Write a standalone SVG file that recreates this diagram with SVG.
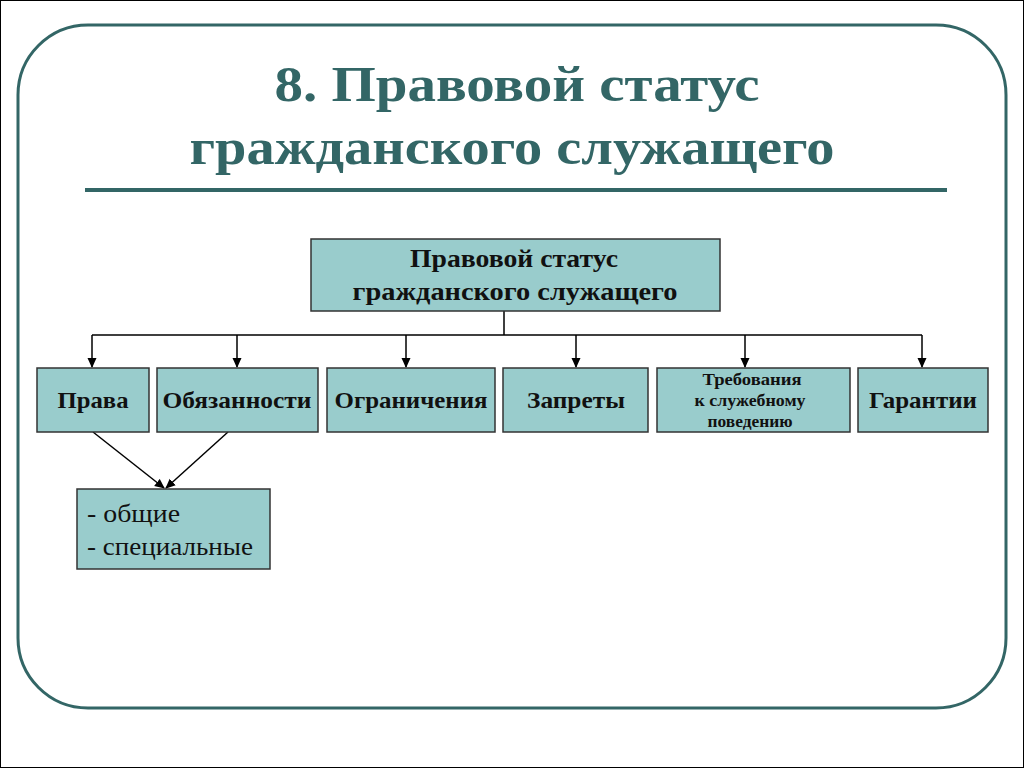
<svg xmlns="http://www.w3.org/2000/svg" width="1024" height="768" viewBox="0 0 1024 768">
<style>
.box{fill:#99cccc;stroke:#333;stroke-width:1.5}
.lbl{font-family:"Liberation Serif",serif;font-weight:bold;fill:#111;text-anchor:middle}
.ttl{font-family:"Liberation Serif",serif;font-weight:bold;font-size:50px;fill:#336666;text-anchor:middle}
.con{stroke:#000;stroke-width:1.5;fill:none}
.sub{font-family:"Liberation Serif",serif;font-size:25px;fill:#111}
</style>
<defs>
<marker id="ah" markerWidth="10" markerHeight="10" refX="9" refY="5" orient="auto" markerUnits="userSpaceOnUse">
<path d="M0,0.5 L10,5 L0,9.5 z" fill="#000"/>
</marker>
</defs>
<rect x="0.5" y="0.5" width="1023" height="767" fill="#fff" stroke="#000" stroke-width="1"/>
<path d="M88,25 H936 A70,70 0 0 1 1006,95 V638 A70,70 0 0 1 936,708 H88 A70,70 0 0 1 18,638 V95 A70,70 0 0 1 88,25 Z" fill="none" stroke="#336666" stroke-width="3"/>
<g id="title">
<text class="ttl" x="517" y="101" textLength="485" lengthAdjust="spacingAndGlyphs">8. Правовой статус</text>
<text class="ttl" x="512" y="164" textLength="645" lengthAdjust="spacingAndGlyphs">гражданского служащего</text>
<rect x="85" y="188" width="862" height="4" fill="#336666"/>
</g>
<g id="connectors">
<path class="con" d="M504,311 V335 M92,335 H922"/>
<path class="con" d="M92,335 V367" marker-end="url(#ah)"/>
<path class="con" d="M237,335 V367" marker-end="url(#ah)"/>
<path class="con" d="M406,335 V367" marker-end="url(#ah)"/>
<path class="con" d="M576,335 V367" marker-end="url(#ah)"/>
<path class="con" d="M745,335 V367" marker-end="url(#ah)"/>
<path class="con" d="M922,335 V367" marker-end="url(#ah)"/>
<path class="con" d="M93,432 L164,488" marker-end="url(#ah)"/>
<path class="con" d="M228,432 L166,488" marker-end="url(#ah)"/>
</g>
<g id="root">
<rect class="box" x="311" y="239" width="409" height="72"/>
<text class="lbl" x="514" y="267" font-size="25" textLength="208" lengthAdjust="spacingAndGlyphs">Правовой статус</text>
<text class="lbl" x="515" y="300" font-size="25" textLength="325" lengthAdjust="spacingAndGlyphs">гражданского служащего</text>
</g>
<g id="prava">
<rect class="box" x="37" y="368" width="112" height="64"/>
<text class="lbl" x="93" y="408" font-size="23" textLength="71" lengthAdjust="spacingAndGlyphs">Права</text>
</g>
<g id="obyazannosti">
<rect class="box" x="157" y="368" width="161" height="64"/>
<text class="lbl" x="237" y="408" font-size="23" textLength="149" lengthAdjust="spacingAndGlyphs">Обязанности</text>
</g>
<g id="ogranicheniya">
<rect class="box" x="327" y="368" width="168" height="64"/>
<text class="lbl" x="411" y="408" font-size="23" textLength="153" lengthAdjust="spacingAndGlyphs">Ограничения</text>
</g>
<g id="zaprety">
<rect class="box" x="503" y="368" width="145" height="64"/>
<text class="lbl" x="576" y="408" font-size="23" textLength="98" lengthAdjust="spacingAndGlyphs">Запреты</text>
</g>
<g id="trebovaniya">
<rect class="box" x="657" y="368" width="193" height="64"/>
<text class="lbl" x="752" y="385" font-size="16" textLength="99" lengthAdjust="spacingAndGlyphs">Требования</text>
<text class="lbl" x="750" y="406" font-size="16" textLength="111" lengthAdjust="spacingAndGlyphs">к служебному</text>
<text class="lbl" x="750" y="427" font-size="16" textLength="85" lengthAdjust="spacingAndGlyphs">поведению</text>
</g>
<g id="garantii">
<rect class="box" x="858" y="368" width="130" height="64"/>
<text class="lbl" x="923" y="408" font-size="23" textLength="108" lengthAdjust="spacingAndGlyphs">Гарантии</text>
</g>
<g id="vidy">
<rect class="box" x="77" y="489" width="193" height="80"/>
<text class="sub" x="87" y="522" textLength="93" lengthAdjust="spacingAndGlyphs">- общие</text>
<text class="sub" x="87" y="555" textLength="166" lengthAdjust="spacingAndGlyphs">- специальные</text>
</g>
</svg>
